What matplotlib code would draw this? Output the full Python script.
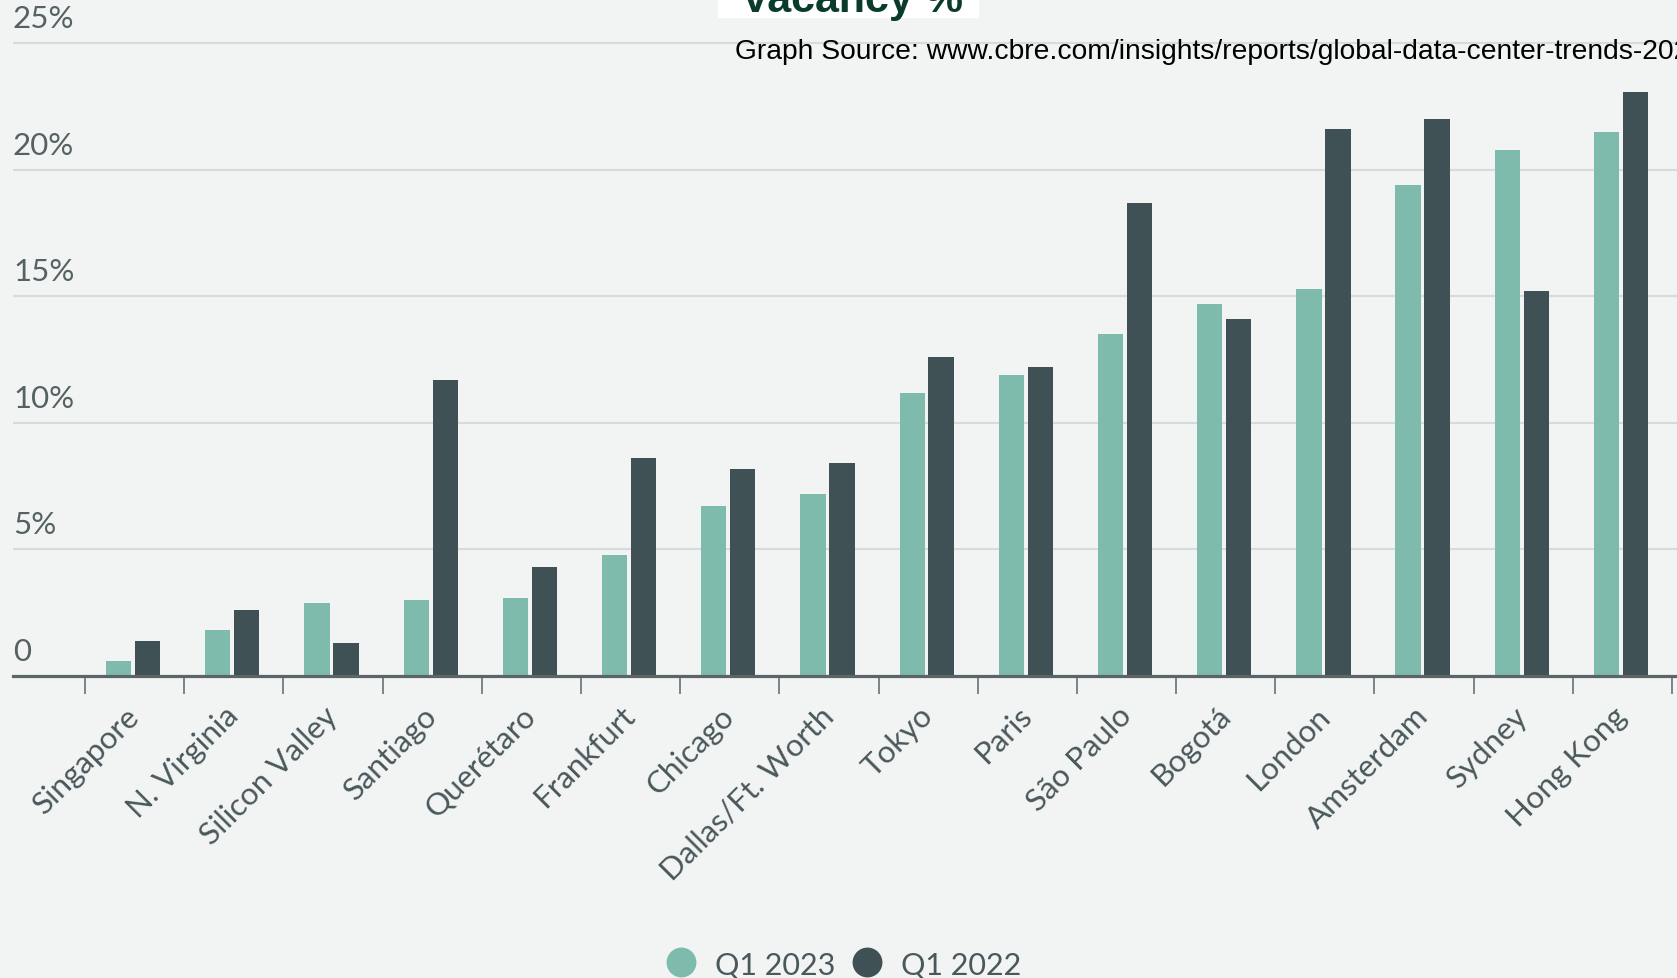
import numpy as np
import matplotlib.pyplot as plt
from matplotlib.lines import Line2D
from matplotlib.patches import Rectangle
from matplotlib.transforms import ScaledTranslation

# data
cities = ["Singapore", "N. Virginia", "Silicon Valley", "Santiago", "Querétaro",
          "Frankfurt", "Chicago", "Dallas/Ft. Worth", "Tokyo", "Paris",
          "São Paulo", "Bogotá", "London", "Amsterdam", "Sydney", "Hong Kong"]
q1_2023 = [0.6, 1.8, 2.9, 3.0, 3.1, 4.8, 6.7, 7.2, 11.2, 11.9,
           13.5, 14.7, 15.3, 19.4, 20.8, 21.5]
q1_2022 = [1.4, 2.6, 1.3, 11.7, 4.3, 8.6, 8.2, 8.4, 12.6, 12.2,
           18.7, 14.1, 21.6, 22.0, 15.2, 23.1]
y_ticks = [0, 5, 10, 15, 20, 25]
y_labels = ["0", "5%", "10%", "15%", "20%", "25%"]
series_names = ["Q1 2023", "Q1 2022"]

bg = "#f2f4f4"
light = "#7fbbad"
dark = "#3f5155"
txt = "#4a585b"

plt.rcParams['font.family'] = ['Lato', 'DejaVu Sans']

fig = plt.figure(figsize=(16.77, 9.79), dpi=100, facecolor=bg)
ax = fig.add_axes([0.00775, 0.30848, 0.99225, 0.65127])
ax.set_facecolor(bg)

x = np.arange(len(cities))
w = 0.255
ax.bar(x - 0.161, q1_2023, width=w, color=light, zorder=2)
ax.bar(x + 0.131, q1_2022, width=w, color=dark, zorder=2)

ax.set_xlim(-1.226, 15.55)
ax.set_ylim(0, 25.2)

# grid lines
ax.set_yticks(y_ticks)
ax.yaxis.grid(True, color="#d6dbdb", lw=1.5, zorder=0)
ax.tick_params(axis='y', left=False, labelleft=False)
ax.set_axisbelow(True)

# y labels sit above the grid lines at the left
off = ScaledTranslation(0, 8 / 72, fig.dpi_scale_trans)
for v, lab in zip(y_ticks, y_labels):
    ax.text(0.0, v, lab, transform=ax.get_yaxis_transform() + off,
            ha='left', va='bottom', fontsize=22.5, color="#556163")

for s in ["top", "right", "left"]:
    ax.spines[s].set_visible(False)
ax.spines["bottom"].set_color("#5b6566")
ax.spines["bottom"].set_linewidth(2.3)
ax.spines["bottom"].set_zorder(3)

# labels at group centres, tick marks at group boundaries
ax.set_xticks(x)
ax.set_xticklabels(cities, rotation=45, ha='right', va='center',
                   rotation_mode='anchor', fontsize=22.5, color=txt)
ax.tick_params(axis='x', which='major', length=0, pad=25)
ax.set_xticks(np.arange(len(cities) + 1) - 0.5, minor=True)
ax.tick_params(axis='x', which='minor', length=13, width=1.1, color="#5b6566")

# legend at the bottom
handles = [Line2D([], [], marker='o', ls='', ms=21.5, color=c, markeredgewidth=0)
           for c in (light, dark)]
fig.legend(handles, series_names, loc='center', bbox_to_anchor=(0.503, 0.0143),
           ncol=2, frameon=False, fontsize=22, labelcolor=txt,
           handlelength=1.0, handletextpad=0.6, columnspacing=0.55,
           borderpad=0, borderaxespad=0)

# cut-off title box and source note
fig.patches.append(Rectangle((0.4282, 0.98161), 0.155, 0.0184,
                             transform=fig.transFigure, color="white", zorder=1))
fig.text(0.508, 0.9877, "Vacancy %", ha='center', va='baseline',
         fontsize=31, fontweight='bold', color="#0a3b2c",
         family='Liberation Sans', zorder=2)
fig.text(0.4383, 1 - 59 / 979, "Graph Source: www.cbre.com/insights/reports/global-data-center-trends-2023",
         ha='left', va='baseline', fontsize=20.3, color="black", family='Liberation Sans')

plt.savefig('out.png', dpi=100, facecolor=bg)
